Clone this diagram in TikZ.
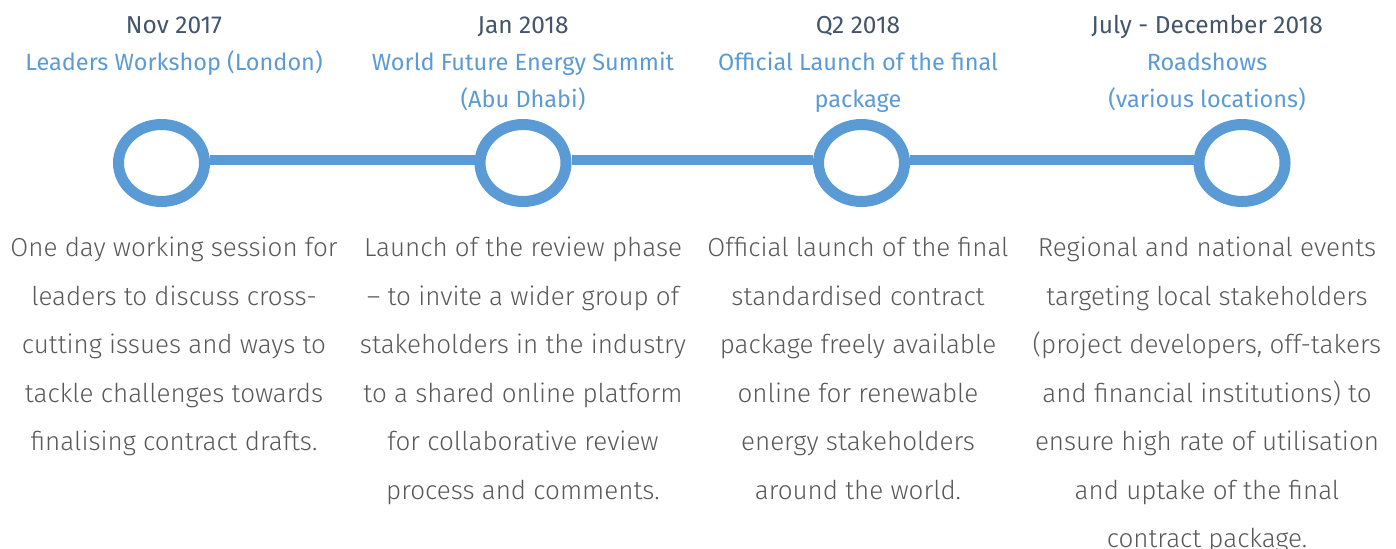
\documentclass[tikz,border=0pt]{standalone}
\usepackage{fontspec}
\setmainfont{Fira Sans}
\newfontfamily\lightfont{Fira Sans Light}
\usetikzlibrary{shapes.geometric}
\definecolor{tblue}{HTML}{5B9BD5}
\definecolor{tdate}{HTML}{44546A}
\definecolor{tbody}{HTML}{595959}
\begin{document}
\begin{tikzpicture}[x=1bp,y=-1bp,
  datetxt/.style={anchor=base,inner sep=0,text=tdate,font=\fontsize{24.5bp}{30bp}\selectfont},
  titletxt/.style={anchor=base,inner sep=0,text=tblue,font=\fontsize{23.5bp}{30bp}\selectfont},
  bodytxt/.style={anchor=base,inner sep=0,text=tbody,font=\lightfont\fontsize{26bp}{30bp}\selectfont},
  milestone/.style={ellipse,draw=tblue,line width=11bp,minimum width=86bp,minimum height=77bp,inner sep=0},
  link/.style={draw=tblue,line width=9.5bp}]
\useasboundingbox (0,0) rectangle (1396,549);
% timeline
\node[milestone] (m1) at (161.5,163) {};
\node[milestone] (m2) at (523,163) {};
\node[milestone] (m3) at (861.5,163) {};
\node[milestone] (m4) at (1242,163) {};
\draw[link] ([yshift=3bp]m1.east) -- ([yshift=3bp]m2.west);
\draw[link] ([yshift=3bp]m2.east) -- ([yshift=3bp]m3.west);
\draw[link] ([yshift=3bp]m3.east) -- ([yshift=3bp]m4.west);
% headings
\node[datetxt] (d1) at (174,34) {Nov 2017};
\node[datetxt] (d2) at (523,34) {Jan 2018};
\node[datetxt] (d3) at (858,34) {Q2 2018};
\node[datetxt] (d4) at (1207,34) {July - December 2018};
\node[titletxt] (t1a) at (174,71) {Leaders Workshop (London)};
\node[titletxt] (t2a) at (523,71) {World Future Energy Summit};
\node[titletxt] (t2b) at (523,108) {(Abu Dhabi)};
\node[titletxt] (t3a) at (858,71) {Official Launch of the final};
\node[titletxt] (t3b) at (858,108) {package};
\node[titletxt] (t4a) at (1207,71) {Roadshows};
\node[titletxt] (t4b) at (1207,108) {(various locations)};
% bodies
\foreach \t [count=\i] in {One day working session for,leaders to discuss cross-,cutting issues and ways to,tackle challenges towards,finalising contract drafts.}
  \node[bodytxt] (b1-\i) at (174,{256.5+48.5*(\i-1)}) {\t};
\foreach \t [count=\i] in {Launch of the review phase,– to invite a wider group of,stakeholders in the industry,to a shared online platform,for collaborative review,process and comments.}
  \node[bodytxt] (b2-\i) at (523,{256.5+48.5*(\i-1)}) {\t};
\foreach \t [count=\i] in {Official launch of the final,standardised contract,package freely available,online for renewable,energy stakeholders,around the world.}
  \node[bodytxt] (b3-\i) at (858,{256.5+48.5*(\i-1)}) {\t};
\foreach \t [count=\i] in {Regional and national events,targeting local stakeholders,{(project developers, off-takers},{and financial institutions) to},ensure high rate of utilisation,and uptake of the final,contract package.}
  \node[bodytxt] (b4-\i) at (1207,{256.5+48.5*(\i-1)}) {\t};
\end{tikzpicture}
\end{document}
